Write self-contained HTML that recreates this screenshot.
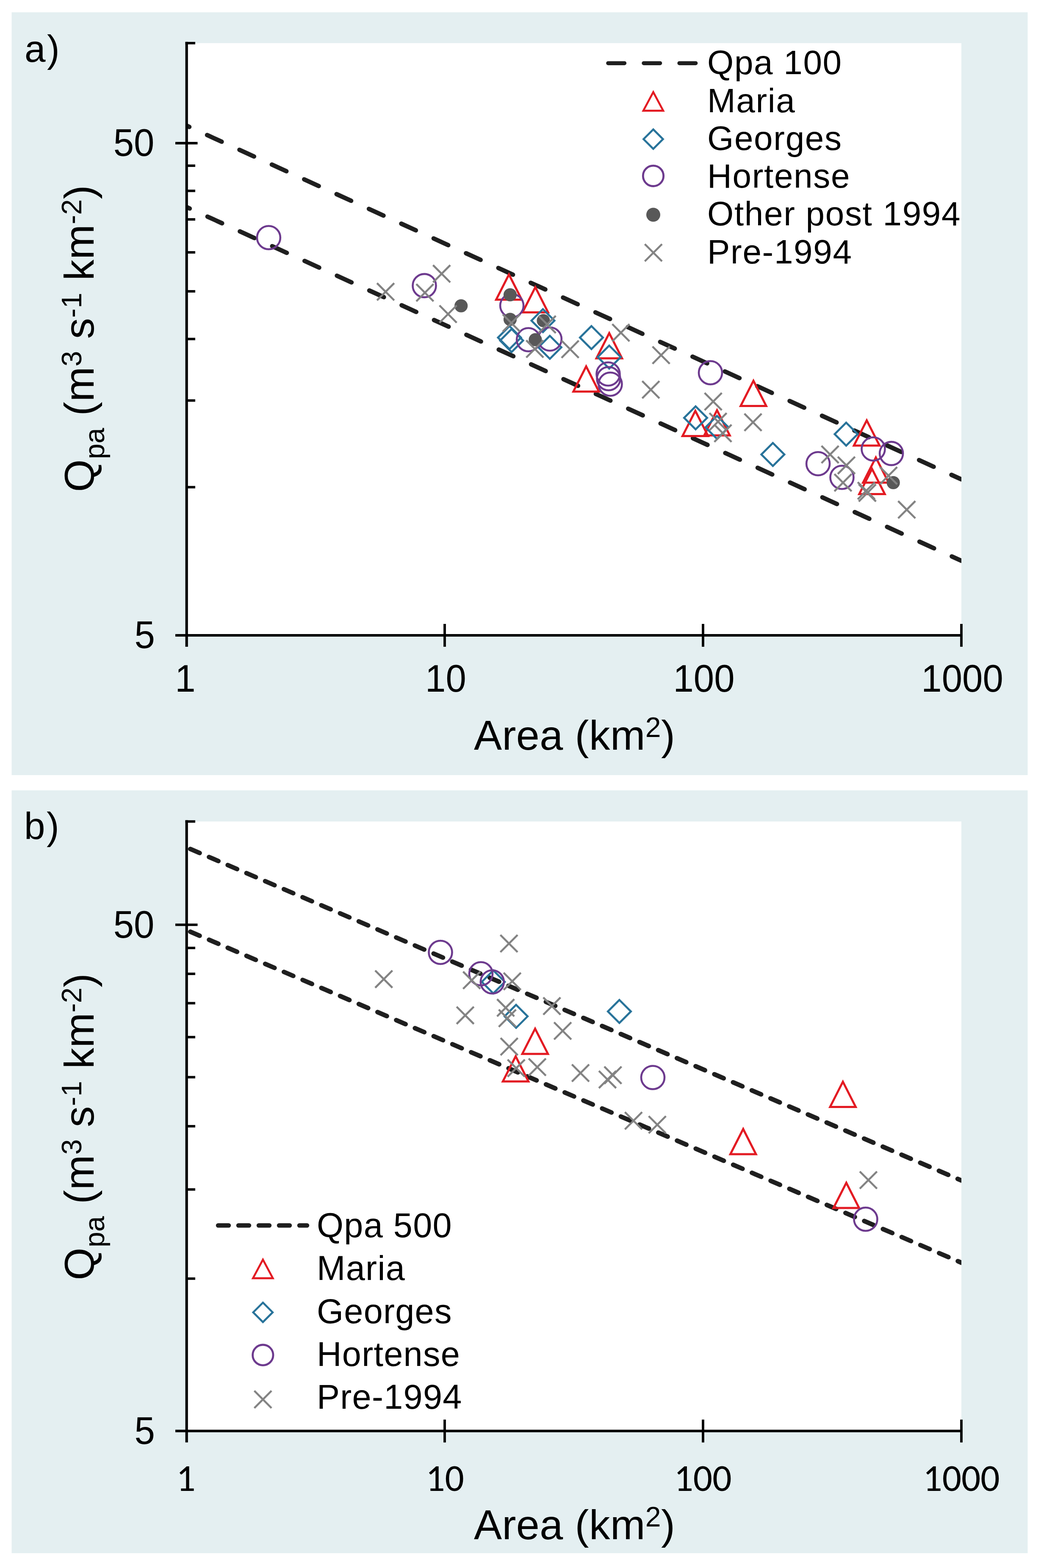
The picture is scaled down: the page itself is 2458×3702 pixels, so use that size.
<!DOCTYPE html>
<html><head><meta charset="utf-8"><title>Qpa vs Area</title>
<style>html,body{margin:0;padding:0;background:#fff;}svg{display:block;}</style>
</head><body>
<svg width="2458" height="3702" viewBox="0 0 2458 3702"><defs><clipPath id="ca"><rect x="441" y="91.8" width="1829" height="1408.2"/></clipPath><clipPath id="cb"><rect x="441" y="1930" width="1829" height="1449"/></clipPath></defs><rect width="2458" height="3702" fill="#fff"/><rect x="27.5" y="29" width="2399" height="1801" fill="#e4eff1"/>
<rect x="441" y="101.8" width="1829" height="1398.2" fill="#ffffff"/>
<line x1="441" y1="296.90" x2="2270" y2="1131.84" stroke="#1f1f1f" stroke-width="10.5" stroke-linecap="round" stroke-dasharray="37.8 46.2" stroke-dashoffset="31.2" clip-path="url(#ca)"/>
<line x1="441" y1="489.10" x2="2270" y2="1324.04" stroke="#1f1f1f" stroke-width="10.5" stroke-linecap="round" stroke-dasharray="37.8 46.2" stroke-dashoffset="30.2" clip-path="url(#ca)"/>
<g clip-path="url(#ca)">
<path d="M1201.7 648.0L1232.0 707.5L1171.5 707.5Z" fill="none" stroke="#e31b23" stroke-width="5.0" stroke-linejoin="miter"/>
<path d="M1264.0 678.0L1294.2 737.5L1233.8 737.5Z" fill="none" stroke="#e31b23" stroke-width="5.0" stroke-linejoin="miter"/>
<path d="M1438.5 786.5L1468.8 846.0L1408.2 846.0Z" fill="none" stroke="#e31b23" stroke-width="5.0" stroke-linejoin="miter"/>
<path d="M1384.0 865.0L1414.2 924.5L1353.8 924.5Z" fill="none" stroke="#e31b23" stroke-width="5.0" stroke-linejoin="miter"/>
<path d="M1779.0 899.0L1809.2 958.5L1748.8 958.5Z" fill="none" stroke="#e31b23" stroke-width="5.0" stroke-linejoin="miter"/>
<path d="M1641.8 970.0L1672.0 1029.5L1611.5 1029.5Z" fill="none" stroke="#e31b23" stroke-width="5.0" stroke-linejoin="miter"/>
<path d="M1693.0 968.5L1723.2 1028.0L1662.8 1028.0Z" fill="none" stroke="#e31b23" stroke-width="5.0" stroke-linejoin="miter"/>
<path d="M2046.5 992.5L2076.8 1052.0L2016.2 1052.0Z" fill="none" stroke="#e31b23" stroke-width="5.0" stroke-linejoin="miter"/>
<path d="M2068.0 1080.0L2098.2 1139.5L2037.8 1139.5Z" fill="none" stroke="#e31b23" stroke-width="5.0" stroke-linejoin="miter"/>
<path d="M2059.0 1107.0L2089.2 1166.5L2028.8 1166.5Z" fill="none" stroke="#e31b23" stroke-width="5.0" stroke-linejoin="miter"/>
<path d="M1203.0 769.8L1230.2 797.0L1203.0 824.2L1175.8 797.0Z" fill="none" stroke="#28739a" stroke-width="4.7" stroke-linejoin="miter" stroke-miterlimit="4"/>
<path d="M1208.0 776.8L1235.2 804.0L1208.0 831.2L1180.8 804.0Z" fill="none" stroke="#28739a" stroke-width="4.7" stroke-linejoin="miter" stroke-miterlimit="4"/>
<path d="M1282.0 729.8L1309.2 757.0L1282.0 784.2L1254.8 757.0Z" fill="none" stroke="#28739a" stroke-width="4.7" stroke-linejoin="miter" stroke-miterlimit="4"/>
<path d="M1298.3 792.8L1325.5 820.0L1298.3 847.2L1271.1 820.0Z" fill="none" stroke="#28739a" stroke-width="4.7" stroke-linejoin="miter" stroke-miterlimit="4"/>
<path d="M1396.5 769.8L1423.7 797.0L1396.5 824.2L1369.3 797.0Z" fill="none" stroke="#28739a" stroke-width="4.7" stroke-linejoin="miter" stroke-miterlimit="4"/>
<path d="M1438.5 815.8L1465.7 843.0L1438.5 870.2L1411.3 843.0Z" fill="none" stroke="#28739a" stroke-width="4.7" stroke-linejoin="miter" stroke-miterlimit="4"/>
<path d="M1642.5 959.3L1669.7 986.5L1642.5 1013.7L1615.3 986.5Z" fill="none" stroke="#28739a" stroke-width="4.7" stroke-linejoin="miter" stroke-miterlimit="4"/>
<path d="M1693.0 981.8L1720.2 1009.0L1693.0 1036.2L1665.8 1009.0Z" fill="none" stroke="#28739a" stroke-width="4.7" stroke-linejoin="miter" stroke-miterlimit="4"/>
<path d="M1824.9 1045.8L1852.1 1073.0L1824.9 1100.2L1797.7 1073.0Z" fill="none" stroke="#28739a" stroke-width="4.7" stroke-linejoin="miter" stroke-miterlimit="4"/>
<path d="M1998.0 997.8L2025.2 1025.0L1998.0 1052.2L1970.8 1025.0Z" fill="none" stroke="#28739a" stroke-width="4.7" stroke-linejoin="miter" stroke-miterlimit="4"/>
<circle cx="634.4" cy="561.0" r="27.5" fill="none" stroke="#6d3a8e" stroke-width="4.6"/>
<circle cx="1002.0" cy="674.4" r="27.5" fill="none" stroke="#6d3a8e" stroke-width="4.6"/>
<circle cx="1208.6" cy="721.6" r="27.5" fill="none" stroke="#6d3a8e" stroke-width="4.6"/>
<circle cx="1247.6" cy="802.0" r="27.5" fill="none" stroke="#6d3a8e" stroke-width="4.6"/>
<circle cx="1298.4" cy="800.5" r="27.5" fill="none" stroke="#6d3a8e" stroke-width="4.6"/>
<circle cx="1436.0" cy="883.0" r="27.5" fill="none" stroke="#6d3a8e" stroke-width="4.6"/>
<circle cx="1437.0" cy="894.0" r="27.5" fill="none" stroke="#6d3a8e" stroke-width="4.6"/>
<circle cx="1441.0" cy="907.0" r="27.5" fill="none" stroke="#6d3a8e" stroke-width="4.6"/>
<circle cx="1677.5" cy="880.0" r="27.5" fill="none" stroke="#6d3a8e" stroke-width="4.6"/>
<circle cx="1931.6" cy="1094.7" r="27.5" fill="none" stroke="#6d3a8e" stroke-width="4.6"/>
<circle cx="1988.0" cy="1127.0" r="27.5" fill="none" stroke="#6d3a8e" stroke-width="4.6"/>
<circle cx="2062.0" cy="1060.0" r="27.5" fill="none" stroke="#6d3a8e" stroke-width="4.6"/>
<circle cx="2104.6" cy="1070.6" r="27.5" fill="none" stroke="#6d3a8e" stroke-width="4.6"/>
<circle cx="1088.7" cy="722.0" r="15.6" fill="#585858"/>
<circle cx="1204.5" cy="696.0" r="15.6" fill="#585858"/>
<circle cx="1204.5" cy="754.0" r="15.6" fill="#585858"/>
<circle cx="1283.0" cy="757.0" r="15.6" fill="#585858"/>
<circle cx="1264.0" cy="802.0" r="15.6" fill="#585858"/>
<circle cx="2109.2" cy="1139.5" r="15.6" fill="#585858"/>
<path d="M890.2 668.5L930.8 709.1M930.8 668.5L890.2 709.1" stroke="#838383" stroke-width="4.6" fill="none"/>
<path d="M983.0 670.7L1023.6 711.3M1023.6 670.7L983.0 711.3" stroke="#838383" stroke-width="4.6" fill="none"/>
<path d="M1022.5 626.0L1063.1 666.6M1063.1 626.0L1022.5 666.6" stroke="#838383" stroke-width="4.6" fill="none"/>
<path d="M1037.7 721.2L1078.3 761.8M1078.3 721.2L1037.7 761.8" stroke="#838383" stroke-width="4.6" fill="none"/>
<path d="M1187.1 742.3L1227.7 782.9M1227.7 742.3L1187.1 782.9" stroke="#838383" stroke-width="4.6" fill="none"/>
<path d="M1242.6 803.5L1283.2 844.1M1283.2 803.5L1242.6 844.1" stroke="#838383" stroke-width="4.6" fill="none"/>
<path d="M1271.7 745.7L1312.3 786.3M1312.3 745.7L1271.7 786.3" stroke="#838383" stroke-width="4.6" fill="none"/>
<path d="M1325.9 804.2L1366.5 844.8M1366.5 804.2L1325.9 844.8" stroke="#838383" stroke-width="4.6" fill="none"/>
<path d="M1445.7 765.2L1486.3 805.8M1486.3 765.2L1445.7 805.8" stroke="#838383" stroke-width="4.6" fill="none"/>
<path d="M1540.7 818.2L1581.3 858.8M1581.3 818.2L1540.7 858.8" stroke="#838383" stroke-width="4.6" fill="none"/>
<path d="M1516.4 899.7L1557.0 940.3M1557.0 899.7L1516.4 940.3" stroke="#838383" stroke-width="4.6" fill="none"/>
<path d="M1663.7 927.7L1704.3 968.3M1704.3 927.7L1663.7 968.3" stroke="#838383" stroke-width="4.6" fill="none"/>
<path d="M1757.7 976.7L1798.3 1017.3M1798.3 976.7L1757.7 1017.3" stroke="#838383" stroke-width="4.6" fill="none"/>
<path d="M1675.1 975.2L1715.7 1015.8M1715.7 975.2L1675.1 1015.8" stroke="#838383" stroke-width="4.6" fill="none"/>
<path d="M1686.7 1002.7L1727.3 1043.3M1727.3 1002.7L1686.7 1043.3" stroke="#838383" stroke-width="4.6" fill="none"/>
<path d="M1939.7 1052.7L1980.3 1093.3M1980.3 1052.7L1939.7 1093.3" stroke="#838383" stroke-width="4.6" fill="none"/>
<path d="M1978.2 1078.4L2018.8 1119.0M2018.8 1078.4L1978.2 1119.0" stroke="#838383" stroke-width="4.6" fill="none"/>
<path d="M1970.2 1119.2L2010.8 1159.8M2010.8 1119.2L1970.2 1159.8" stroke="#838383" stroke-width="4.6" fill="none"/>
<path d="M2077.7 1102.7L2118.3 1143.3M2118.3 1102.7L2077.7 1143.3" stroke="#838383" stroke-width="4.6" fill="none"/>
<path d="M2025.2 1138.3L2065.8 1178.9M2065.8 1138.3L2025.2 1178.9" stroke="#838383" stroke-width="4.6" fill="none"/>
<path d="M2027.7 1143.4L2068.3 1184.0M2068.3 1143.4L2027.7 1184.0" stroke="#838383" stroke-width="4.6" fill="none"/>
<path d="M2120.7 1183.0L2161.3 1223.6M2161.3 1183.0L2120.7 1223.6" stroke="#838383" stroke-width="4.6" fill="none"/>
</g>
<line x1="1436" y1="149.2" x2="1646" y2="149.2" stroke="#1f1f1f" stroke-width="9.6" stroke-linecap="round" stroke-dasharray="38.4 45.7"/>
<path d="M1542.5 217.4L1566.0 261.4L1519.0 261.4Z" fill="none" stroke="#e31b23" stroke-width="4.6" stroke-linejoin="miter"/>
<path d="M1542.5 305.5L1565.5 328.5L1542.5 351.5L1519.5 328.5Z" fill="none" stroke="#28739a" stroke-width="4.6" stroke-linejoin="miter" stroke-miterlimit="4"/>
<circle cx="1542.5" cy="415.3" r="24.2" fill="none" stroke="#6d3a8e" stroke-width="4.8"/>
<circle cx="1542.5" cy="507.0" r="16.5" fill="#585858"/>
<path d="M1522.5 576.3L1563.1 616.9M1563.1 576.3L1522.5 616.9" stroke="#838383" stroke-width="4.6" fill="none"/>
<text x="1670" y="175.2" style="font-family:'Liberation Sans',Arial,sans-serif;letter-spacing:1.7px" font-size="80">Qpa 100</text>
<text x="1670" y="264.5" style="font-family:'Liberation Sans',Arial,sans-serif;letter-spacing:1.7px" font-size="80">Maria</text>
<text x="1670" y="353.8" style="font-family:'Liberation Sans',Arial,sans-serif;letter-spacing:1.7px" font-size="80">Georges</text>
<text x="1670" y="443.1" style="font-family:'Liberation Sans',Arial,sans-serif;letter-spacing:1.7px" font-size="80">Hortense</text>
<text x="1670" y="532.4" style="font-family:'Liberation Sans',Arial,sans-serif;letter-spacing:1.7px" font-size="80">Other post 1994</text>
<text x="1670" y="621.7" style="font-family:'Liberation Sans',Arial,sans-serif;letter-spacing:1.7px" font-size="80">Pre-1994</text>
<line x1="440.7" y1="98.8" x2="440.7" y2="1527.0" stroke="#000" stroke-width="6.2"/>
<line x1="437.7" y1="101.8" x2="461" y2="101.8" stroke="#000" stroke-width="5.8"/>
<line x1="414" y1="1500.0" x2="2270" y2="1500.0" stroke="#000" stroke-width="6"/>
<line x1="414" y1="338.0" x2="466.5" y2="338.0" stroke="#000" stroke-width="5.8"/>
<line x1="440.7" y1="1150.2" x2="461" y2="1150.2" stroke="#000" stroke-width="5.8"/>
<line x1="440.7" y1="945.6" x2="461" y2="945.6" stroke="#000" stroke-width="5.8"/>
<line x1="440.7" y1="800.4" x2="461" y2="800.4" stroke="#000" stroke-width="5.8"/>
<line x1="440.7" y1="687.8" x2="461" y2="687.8" stroke="#000" stroke-width="5.8"/>
<line x1="440.7" y1="595.8" x2="461" y2="595.8" stroke="#000" stroke-width="5.8"/>
<line x1="440.7" y1="518.0" x2="461" y2="518.0" stroke="#000" stroke-width="5.8"/>
<line x1="440.7" y1="450.6" x2="461" y2="450.6" stroke="#000" stroke-width="5.8"/>
<line x1="440.7" y1="391.2" x2="461" y2="391.2" stroke="#000" stroke-width="5.8"/>
<line x1="1050" y1="1473.0" x2="1050" y2="1527.0" stroke="#000" stroke-width="5.8"/>
<line x1="1660" y1="1473.0" x2="1660" y2="1527.0" stroke="#000" stroke-width="5.8"/>
<line x1="2270" y1="1473.0" x2="2270" y2="1527.0" stroke="#000" stroke-width="5.8"/>
<rect x="27.5" y="1866" width="2399" height="1801" fill="#e4eff1"/>
<rect x="441" y="1939.5" width="1829" height="1439.1" fill="#ffffff"/>
<line x1="441" y1="2000.80" x2="2270" y2="2787.09" stroke="#1f1f1f" stroke-width="10.8" stroke-linecap="round" stroke-dasharray="24.0 24.1" stroke-dashoffset="39.0" clip-path="url(#cb)"/>
<line x1="441" y1="2196.20" x2="2270" y2="2981.17" stroke="#1f1f1f" stroke-width="10.8" stroke-linecap="round" stroke-dasharray="24.0 24.1" stroke-dashoffset="39.0" clip-path="url(#cb)"/>
<g clip-path="url(#cb)">
<path d="M1263.5 2428.7L1293.8 2488.2L1233.2 2488.2Z" fill="none" stroke="#e31b23" stroke-width="5.0" stroke-linejoin="miter"/>
<path d="M1217.6 2493.8L1247.8 2553.3L1187.3 2553.3Z" fill="none" stroke="#e31b23" stroke-width="5.0" stroke-linejoin="miter"/>
<path d="M1754.8 2665.5L1785.0 2725.0L1724.5 2725.0Z" fill="none" stroke="#e31b23" stroke-width="5.0" stroke-linejoin="miter"/>
<path d="M1990.2 2553.9L2020.5 2613.4L1960.0 2613.4Z" fill="none" stroke="#e31b23" stroke-width="5.0" stroke-linejoin="miter"/>
<path d="M1998.3 2792.5L2028.5 2852.0L1968.0 2852.0Z" fill="none" stroke="#e31b23" stroke-width="5.0" stroke-linejoin="miter"/>
<path d="M1164.8 2291.0L1192.0 2318.2L1164.8 2345.4L1137.6 2318.2Z" fill="none" stroke="#28739a" stroke-width="4.7" stroke-linejoin="miter" stroke-miterlimit="4"/>
<path d="M1218.6 2372.4L1245.8 2399.6L1218.6 2426.8L1191.4 2399.6Z" fill="none" stroke="#28739a" stroke-width="4.7" stroke-linejoin="miter" stroke-miterlimit="4"/>
<path d="M1462.5 2360.8L1489.7 2388.0L1462.5 2415.2L1435.3 2388.0Z" fill="none" stroke="#28739a" stroke-width="4.7" stroke-linejoin="miter" stroke-miterlimit="4"/>
<circle cx="1040.0" cy="2248.5" r="27.5" fill="none" stroke="#6d3a8e" stroke-width="4.6"/>
<circle cx="1135.5" cy="2299.0" r="27.5" fill="none" stroke="#6d3a8e" stroke-width="4.6"/>
<circle cx="1162.3" cy="2318.2" r="27.5" fill="none" stroke="#6d3a8e" stroke-width="4.6"/>
<circle cx="1541.5" cy="2544.0" r="27.5" fill="none" stroke="#6d3a8e" stroke-width="4.6"/>
<circle cx="2044.0" cy="2878.5" r="27.5" fill="none" stroke="#6d3a8e" stroke-width="4.6"/>
<path d="M1181.5 2207.3L1222.1 2247.9M1222.1 2207.3L1181.5 2247.9" stroke="#838383" stroke-width="4.6" fill="none"/>
<path d="M885.9 2291.4L926.5 2332.0M926.5 2291.4L885.9 2332.0" stroke="#838383" stroke-width="4.6" fill="none"/>
<path d="M1093.5 2294.0L1134.1 2334.6M1134.1 2294.0L1093.5 2334.6" stroke="#838383" stroke-width="4.6" fill="none"/>
<path d="M1189.2 2296.6L1229.8 2337.2M1229.8 2296.6L1189.2 2337.2" stroke="#838383" stroke-width="4.6" fill="none"/>
<path d="M1078.2 2376.9L1118.8 2417.5M1118.8 2376.9L1078.2 2417.5" stroke="#838383" stroke-width="4.6" fill="none"/>
<path d="M1173.7 2359.0L1214.3 2399.6M1214.3 2359.0L1173.7 2399.6" stroke="#838383" stroke-width="4.6" fill="none"/>
<path d="M1177.7 2383.7L1218.3 2424.3M1218.3 2383.7L1177.7 2424.3" stroke="#838383" stroke-width="4.6" fill="none"/>
<path d="M1282.8 2355.0L1323.4 2395.6M1323.4 2355.0L1282.8 2395.6" stroke="#838383" stroke-width="4.6" fill="none"/>
<path d="M1308.3 2413.6L1348.9 2454.2M1348.9 2413.6L1308.3 2454.2" stroke="#838383" stroke-width="4.6" fill="none"/>
<path d="M1182.0 2450.7L1222.6 2491.3M1222.6 2450.7L1182.0 2491.3" stroke="#838383" stroke-width="4.6" fill="none"/>
<path d="M1198.6 2501.6L1239.2 2542.2M1239.2 2501.6L1198.6 2542.2" stroke="#838383" stroke-width="4.6" fill="none"/>
<path d="M1248.3 2499.1L1288.9 2539.7M1288.9 2499.1L1248.3 2539.7" stroke="#838383" stroke-width="4.6" fill="none"/>
<path d="M1350.4 2513.1L1391.0 2553.7M1391.0 2513.1L1350.4 2553.7" stroke="#838383" stroke-width="4.6" fill="none"/>
<path d="M1414.1 2528.4L1454.7 2569.0M1454.7 2528.4L1414.1 2569.0" stroke="#838383" stroke-width="4.6" fill="none"/>
<path d="M1426.9 2518.2L1467.5 2558.8M1467.5 2518.2L1426.9 2558.8" stroke="#838383" stroke-width="4.6" fill="none"/>
<path d="M1475.5 2625.7L1516.1 2666.3M1516.1 2625.7L1475.5 2666.3" stroke="#838383" stroke-width="4.6" fill="none"/>
<path d="M1531.7 2635.1L1572.3 2675.7M1572.3 2635.1L1531.7 2675.7" stroke="#838383" stroke-width="4.6" fill="none"/>
<path d="M2030.1 2765.8L2070.7 2806.4M2070.7 2765.8L2030.1 2806.4" stroke="#838383" stroke-width="4.6" fill="none"/>
</g>
<line x1="515" y1="2893.3" x2="725" y2="2893.3" stroke="#1f1f1f" stroke-width="10.5" stroke-linecap="round" stroke-dasharray="25 23"/>
<path d="M620.8 2973.9L644.3 3017.9L597.3 3017.9Z" fill="none" stroke="#e31b23" stroke-width="4.6" stroke-linejoin="miter"/>
<path d="M620.8 3075.4L643.8 3098.4L620.8 3121.4L597.8 3098.4Z" fill="none" stroke="#28739a" stroke-width="4.6" stroke-linejoin="miter" stroke-miterlimit="4"/>
<circle cx="620.8" cy="3199.2" r="24.2" fill="none" stroke="#6d3a8e" stroke-width="4.8"/>
<path d="M600.5 3283.7L641.1 3324.3M641.1 3283.7L600.5 3324.3" stroke="#838383" stroke-width="4.6" fill="none"/>
<text x="748" y="2921.0" style="font-family:'Liberation Sans',Arial,sans-serif;letter-spacing:1.3px" font-size="81">Qpa 500</text>
<text x="748" y="3022.3" style="font-family:'Liberation Sans',Arial,sans-serif;letter-spacing:1.3px" font-size="81">Maria</text>
<text x="748" y="3123.6" style="font-family:'Liberation Sans',Arial,sans-serif;letter-spacing:1.3px" font-size="81">Georges</text>
<text x="748" y="3224.9" style="font-family:'Liberation Sans',Arial,sans-serif;letter-spacing:1.3px" font-size="81">Hortense</text>
<text x="748" y="3326.2" style="font-family:'Liberation Sans',Arial,sans-serif;letter-spacing:1.3px" font-size="81">Pre-1994</text>
<line x1="440.7" y1="1936.5" x2="440.7" y2="3405.6" stroke="#000" stroke-width="6.2"/>
<line x1="437.7" y1="1939.5" x2="461" y2="1939.5" stroke="#000" stroke-width="5.8"/>
<line x1="414" y1="3378.6" x2="2270" y2="3378.6" stroke="#000" stroke-width="6"/>
<line x1="414" y1="2183.4" x2="466.5" y2="2183.4" stroke="#000" stroke-width="5.8"/>
<line x1="440.7" y1="3018.8" x2="461" y2="3018.8" stroke="#000" stroke-width="5.8"/>
<line x1="440.7" y1="2808.3" x2="461" y2="2808.3" stroke="#000" stroke-width="5.8"/>
<line x1="440.7" y1="2659.0" x2="461" y2="2659.0" stroke="#000" stroke-width="5.8"/>
<line x1="440.7" y1="2543.2" x2="461" y2="2543.2" stroke="#000" stroke-width="5.8"/>
<line x1="440.7" y1="2448.6" x2="461" y2="2448.6" stroke="#000" stroke-width="5.8"/>
<line x1="440.7" y1="2368.5" x2="461" y2="2368.5" stroke="#000" stroke-width="5.8"/>
<line x1="440.7" y1="2299.2" x2="461" y2="2299.2" stroke="#000" stroke-width="5.8"/>
<line x1="440.7" y1="2238.1" x2="461" y2="2238.1" stroke="#000" stroke-width="5.8"/>
<line x1="1050" y1="3351.6" x2="1050" y2="3405.6" stroke="#000" stroke-width="5.8"/>
<line x1="1660" y1="3351.6" x2="1660" y2="3405.6" stroke="#000" stroke-width="5.8"/>
<line x1="2270" y1="3351.6" x2="2270" y2="3405.6" stroke="#000" stroke-width="5.8"/>
<text transform="translate(364.5,368.2) scale(1,1.045)" text-anchor="end" style="font-family:'Liberation Sans',Arial,sans-serif" font-size="87">50</text>
<text transform="translate(366,1530.2) scale(1,1.045)" text-anchor="end" style="font-family:'Liberation Sans',Arial,sans-serif" font-size="87">5</text>
<text transform="translate(364.5,2213.6) scale(1,1.045)" text-anchor="end" style="font-family:'Liberation Sans',Arial,sans-serif" font-size="87">50</text>
<text transform="translate(366,3408.8) scale(1,1.045)" text-anchor="end" style="font-family:'Liberation Sans',Arial,sans-serif" font-size="87">5</text>
<text transform="translate(437.5,1633) scale(1,1.045)" text-anchor="middle" style="font-family:'Liberation Sans',Arial,sans-serif" font-size="87">1</text>
<text transform="translate(1052.5,1633) scale(1,1.045)" text-anchor="middle" style="font-family:'Liberation Sans',Arial,sans-serif" font-size="87">10</text>
<text transform="translate(1662,1633) scale(1,1.045)" text-anchor="middle" style="font-family:'Liberation Sans',Arial,sans-serif" font-size="87">100</text>
<text transform="translate(2272,1633) scale(1,1.045)" text-anchor="middle" style="font-family:'Liberation Sans',Arial,sans-serif" font-size="87">1000</text>
<text x="439" y="3519.5" text-anchor="middle" style="font-family:Carlito,Calibri,'Liberation Sans',sans-serif" font-size="89.5">1</text>
<text x="1050.5" y="3519.5" text-anchor="middle" style="font-family:Carlito,Calibri,'Liberation Sans',sans-serif" font-size="89.5">10</text>
<text x="1659.5" y="3519.5" text-anchor="middle" style="font-family:Carlito,Calibri,'Liberation Sans',sans-serif" font-size="89.5">100</text>
<text x="2270" y="3519.5" text-anchor="middle" style="font-family:Carlito,Calibri,'Liberation Sans',sans-serif" font-size="89.5">1000</text>
<text x="1119" y="1769.5" style="font-family:'Liberation Sans',Arial,sans-serif;letter-spacing:0.4px" font-size="99">Area (km<tspan dy="-29.5" font-size="66">2</tspan><tspan dy="29.5">)</tspan></text>
<text x="1119" y="3633.5" style="font-family:'Liberation Sans',Arial,sans-serif;letter-spacing:0.4px" font-size="99">Area (km<tspan dy="-29.5" font-size="66">2</tspan><tspan dy="29.5">)</tspan></text>
<text transform="translate(221,1161.6) rotate(-90)" x="0" y="0" style="font-family:'Liberation Sans',Arial,sans-serif;letter-spacing:0.48px" font-size="99">Q<tspan dy="25" font-size="66">pa</tspan><tspan dy="-25"> (m</tspan><tspan dy="-28.6" font-size="66">3</tspan><tspan dy="28.6"> s</tspan><tspan dy="-28.6" font-size="66">-1</tspan><tspan dy="28.6"> km</tspan><tspan dy="-28.6" font-size="66">-2</tspan><tspan dy="28.6">)</tspan></text>
<text transform="translate(221,3022.6) rotate(-90)" x="0" y="0" style="font-family:'Liberation Sans',Arial,sans-serif;letter-spacing:0.48px" font-size="99">Q<tspan dy="25" font-size="66">pa</tspan><tspan dy="-25"> (m</tspan><tspan dy="-28.6" font-size="66">3</tspan><tspan dy="28.6"> s</tspan><tspan dy="-28.6" font-size="66">-1</tspan><tspan dy="28.6"> km</tspan><tspan dy="-28.6" font-size="66">-2</tspan><tspan dy="28.6">)</tspan></text>
<text x="58" y="146" style="font-family:'Liberation Sans',Arial,sans-serif;letter-spacing:3.5px" font-size="89">a)</text>
<text x="57" y="1981" style="font-family:'Liberation Sans',Arial,sans-serif;letter-spacing:3.5px" font-size="89">b)</text></svg>
</body></html>
